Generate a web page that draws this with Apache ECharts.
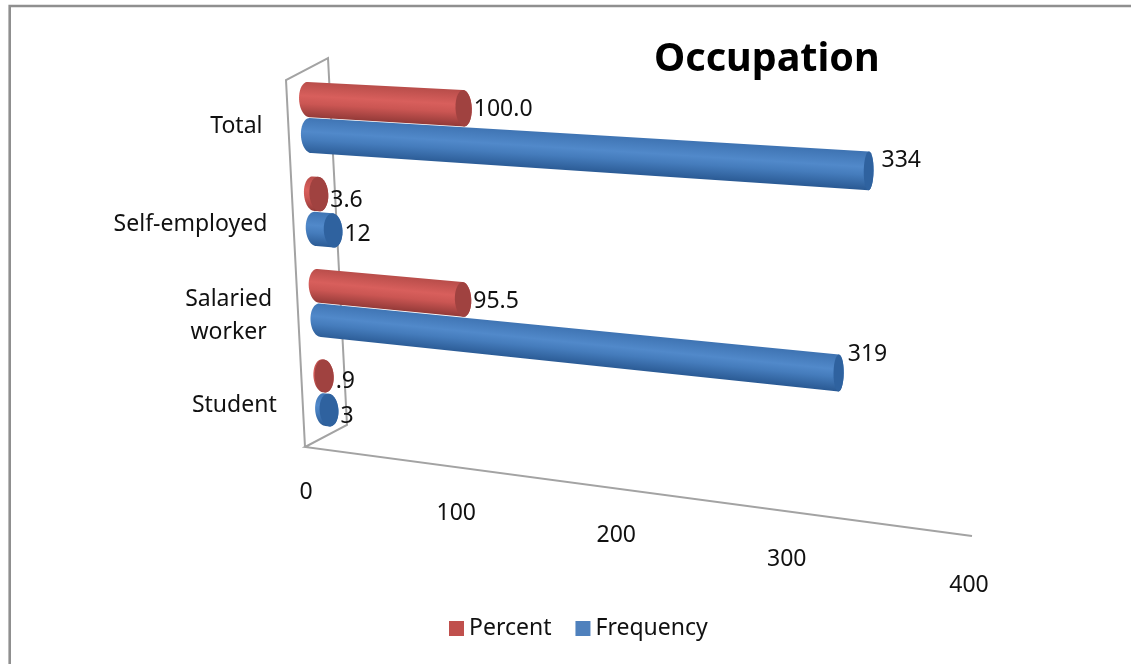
<!DOCTYPE html>
<html>
<head>
<meta charset="utf-8">
<style>
  html, body { margin: 0; padding: 0; background: #fff; }
  #chart { width: 1131px; height: 664px; }
</style>
<script src="https://cdn.jsdelivr.net/npm/echarts@6/dist/echarts.min.js"></script>
</head>
<body>
<div id="chart"></div>
<script>
// Occupation of respondents: frequency and percent per category
const categories = ['Student', 'Salaried\nworker', 'Self-employed', 'Total'];
const frequency = [3, 319, 12, 334];
const percent = [0.9, 95.5, 3.6, 100.0];
const percentLabels = ['.9', '95.5', '3.6', '100.0'];
const frequencyLabels = ['3', '319', '12', '334'];
const valueTicks = [0, 100, 200, 300, 400];

const FONT = '"Noto Sans", sans-serif';
const TEXT_FONT = '23px ' + FONT;
const INK = '#111';
const WALL = '#a3a3a3';

const grid = { left: 100, top: 100, width: 800, height: 400 };

// Perspective plane of the mid-depth of the box, as a unit-square homography
const quad = [[326, 436], [985, 519], [997, 103], [307, 69]];
const depthNear = [[-21, 11], [-13, 17]];
const depthFar = [21, -11];

// Vertical nudges of category names and bar-end labels
const categoryNudge = [14, 14, 14, 10];
const percentNudge = [5, 2, 6, 1];
const frequencyNudge = [6, -19, 4, -10];
const frequencyRun = [2, 4, 2, 8];
const percentRun = [2, 2, 2, 2];

function makeHomography(q) {
  const [[x0, y0], [x1, y1], [x2, y2], [x3, y3]] = q;
  const dx1 = x1 - x2, dx2 = x3 - x2, sx = x0 - x1 + x2 - x3;
  const dy1 = y1 - y2, dy2 = y3 - y2, sy = y0 - y1 + y2 - y3;
  const den = dx1 * dy2 - dx2 * dy1;
  const g = (sx * dy2 - dx2 * sy) / den;
  const h = (dx1 * sy - sx * dy1) / den;
  const a = x1 - x0 + g * x1, b = x3 - x0 + h * x3;
  const d = y1 - y0 + g * y1, e = y3 - y0 + h * y3;
  return (s, t) => {
    const w = g * s + h * t + 1;
    return [(a * s + b * t + x0) / w, (d * s + e * t + y0) / w];
  };
}
const warp = makeHomography(quad);

// Grid pixel -> unit coordinates -> projected plane
function project(px, py) {
  return warp((px - grid.left) / grid.width, (grid.top + grid.height - py) / grid.height);
}

// Half-width of an end disc narrows with distance along the value axis
function discWidth(s) { return 9.5 - 5.5 * s; }

function ring(center, up, rx, from, to) {
  const pts = [];
  const n = 28;
  for (let i = 0; i <= n; i++) {
    const a = from + (to - from) * i / n;
    const c = Math.cos(a), w = Math.sin(a);
    pts.push([center[0] + c * up[0] + w * rx, center[1] + c * up[1]]);
  }
  return pts;
}

const ruler = document.createElement('canvas').getContext('2d');
function widestLine(text, font) {
  ruler.font = font;
  return Math.max.apply(null, text.split('\n').map((l) => ruler.measureText(l).width));
}

function cylinder(palette, rowShift, labels, lifts, runs) {
  return function (params, api) {
    const cat = api.value(0), val = api.value(1);
    const base = api.coord([0, cat]);
    const tip = api.coord([val, cat]);
    const band = api.size([0, 1])[1];
    const radius = band * 0.185;
    const cy = base[1] + rowShift * band;
    const s1 = (tip[0] - grid.left) / grid.width;

    const c0 = project(base[0], cy), up0 = project(base[0], cy - radius);
    const c1 = project(tip[0], cy), up1 = project(tip[0], cy - radius);
    const u0 = [up0[0] - c0[0], up0[1] - c0[1]];
    const u1 = [up1[0] - c1[0], up1[1] - c1[1]];

    const back = ring(c0, u0, discWidth(0), 0, -Math.PI);
    const front = ring(c1, u1, discWidth(s1), Math.PI, 0);
    const body = back.concat(front);

    // Shading runs across the tube, normal to its axis
    const ax = project(grid.left + grid.width, cy);
    const len = Math.hypot(ax[0] - c0[0], ax[1] - c0[1]);
    const nx = -(ax[1] - c0[1]) / len, ny = (ax[0] - c0[0]) / len;
    const mx = (c0[0] + c1[0]) / 2, my = (c0[1] + c1[1]) / 2;
    const rr = Math.hypot(u0[0] + u1[0], u0[1] + u1[1]) / 2;
    const shade = new echarts.graphic.LinearGradient(
      mx - nx * rr, my - ny * rr, mx + nx * rr, my + ny * rr,
      [
        { offset: 0, color: palette.edge },
        { offset: 0.4, color: palette.light },
        { offset: 0.62, color: palette.base },
        { offset: 1, color: palette.dark }
      ], true);

    const disc = ring(c1, u1, discWidth(s1), 0, Math.PI * 2);
    return {
      type: 'group',
      children: [
        { type: 'polygon', shape: { points: body }, style: { fill: shade } },
        { type: 'polygon', shape: { points: disc }, style: { fill: palette.cap } },
        {
          type: 'text',
          style: {
            x: c1[0] + discWidth(s1) + runs[params.dataIndex],
            y: c1[1] + lifts[params.dataIndex],
            text: labels[params.dataIndex],
            fill: INK,
            font: TEXT_FONT,
            textAlign: 'left',
            textVerticalAlign: 'middle'
          }
        }
      ]
    };
  };
}

const red = { edge: '#b84d4a', light: '#d85f5c', base: '#cb5653', dark: '#933a38', cap: '#a04240' };
const blue = { edge: '#3f74b3', light: '#5189ca', base: '#457cbc', dark: '#2b5b95', cap: '#2f629f' };

const option = {
  animation: false,
  backgroundColor: '#fff',
  title: {
    text: 'Occupation',
    left: 649,
    top: 35,
    textStyle: { fontFamily: FONT, fontWeight: 'bold', fontSize: 39.5, color: '#000' }
  },
  legend: {
    data: [
      { name: 'Percent', itemStyle: { color: '#c0504d' } },
      { name: 'Frequency', itemStyle: { color: '#4f81bd' } }
    ],
    left: 444,
    top: 612,
    icon: 'rect',
    itemWidth: 15,
    itemHeight: 15,
    itemGap: 24,
    textStyle: { fontFamily: FONT, fontSize: 23, color: INK }
  },
  grid: grid,
  xAxis: { type: 'value', min: 0, max: 400, interval: 100, show: false },
  yAxis: { type: 'category', data: categories, show: false },
  graphic: [{
    // Sheet edge along the left and the top
    type: 'polyline',
    shape: { points: [[9.7, 664], [9.7, 6], [1131, 6]] },
    style: { fill: 'none', stroke: '#8f8f8f', lineWidth: 2.6 },
    silent: true,
    z: -10
  }],
  series: [
    {
      // Box outline, value ticks and category names
      type: 'custom',
      name: 'frame',
      coordinateSystem: 'cartesian2d',
      z: 1,
      silent: true,
      data: [[0, 0]],
      encode: { x: 0, y: 1 },
      renderItem: function (params, api) {
        const floor = api.coord([0, 0])[1] + api.size([0, 1])[1] / 2;
        const roof = floor - grid.height;
        const x0 = api.coord([0, 0])[0];
        const x1 = api.coord([400, 0])[0];
        const add = (p, d) => [p[0] + d[0], p[1] + d[1]];
        const botL = project(x0, floor), topL = project(x0, roof), botR = project(x1, floor);
        const fBL = add(botL, depthNear[0]), bBL = add(botL, depthFar);
        const fTL = add(topL, depthNear[0]), bTL = add(topL, depthFar);
        const fBR = add(botR, depthNear[1]);
        const children = [{
          type: 'polyline',
          shape: { points: [fBL, fTL, bTL, bBL, fBL, fBR] },
          style: { stroke: WALL, lineWidth: 2, fill: 'none' }
        }];
        valueTicks.forEach((v) => {
          const px = api.coord([v, 0])[0];
          const s = v / 400;
          const p = project(px, floor);
          children.push({
            type: 'text',
            style: {
              x: p[0] - 20 + 4 * s,
              y: p[1] + 56 + 10 * s,
              text: String(v),
              fill: INK,
              font: TEXT_FONT,
              textAlign: 'center',
              textVerticalAlign: 'middle'
            }
          });
        });
        categories.forEach((name, i) => {
          const c = api.coord([0, i]);
          const p = project(c[0], c[1]);
          children.push({
            type: 'text',
            style: {
              x: p[0] - 47 - widestLine(name, TEXT_FONT) / 2,
              y: p[1] + categoryNudge[i],
              text: name,
              fill: INK,
              font: TEXT_FONT,
              lineHeight: 33,
              align: 'center',
              textAlign: 'center',
              textVerticalAlign: 'middle'
            }
          });
        });
        return { type: 'group', children: children };
      }
    },
    {
      type: 'custom',
      name: 'Frequency',
      coordinateSystem: 'cartesian2d',
      z: 3,
      itemStyle: { color: '#4f81bd' },
      encode: { x: 1, y: 0 },
      data: frequency.map((v, i) => [i, v]),
      renderItem: cylinder(blue, 0.2, frequencyLabels, frequencyNudge, frequencyRun)
    },
    {
      type: 'custom',
      name: 'Percent',
      coordinateSystem: 'cartesian2d',
      z: 4,
      itemStyle: { color: '#c0504d' },
      encode: { x: 1, y: 0 },
      data: percent.map((v, i) => [i, v]),
      renderItem: cylinder(red, -0.18, percentLabels, percentNudge, percentRun)
    }
  ]
};

const chart = echarts.init(document.getElementById('chart'), null, { renderer: 'canvas' });
chart.setOption(option);
</script>
</body>
</html>
